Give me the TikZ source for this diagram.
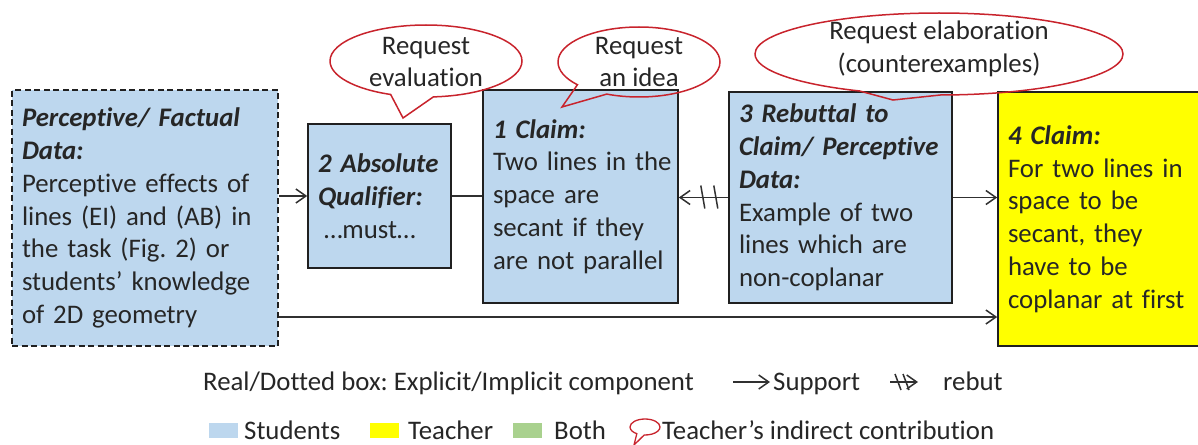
\documentclass[tikz,border=0pt]{standalone}
\usepackage{fontspec}
\setmainfont{Carlito}[Ligatures={NoCommon,NoRare,NoContextual}]
\usetikzlibrary{arrows.meta,shapes.callouts,calc}
\definecolor{stud}{HTML}{BDD7EE}
\definecolor{teach}{HTML}{FFFF00}
\definecolor{both}{HTML}{A9D18E}
\definecolor{cred}{HTML}{C8232C}
\definecolor{ink}{HTML}{262626}
\definecolor{edgec}{HTML}{202020}
\definecolor{linec}{HTML}{303030}
\frenchspacing
\begin{document}
\begin{tikzpicture}[x=1pt,y=-1pt,
  font=\fontsize{26.8}{32.8}\selectfont, text=ink,
  box/.style={draw=edgec, line width=1.6pt, fill=stud, inner xsep=6pt, inner ysep=0pt, align=left},
  conn/.style={draw=linec, line width=1.5pt},
  sup/.style={conn, -{Straight Barb[length=10pt,width=14pt,line width=1.5pt]}},
  bubble/.style={ellipse callout, draw=cred, line width=1.5pt, inner sep=0pt, callout pointer arc=26},
  lbl/.style={anchor=base west, inner sep=0pt},
  swatch/.style={inner sep=0pt, minimum width=29pt, minimum height=15pt}
]
\useasboundingbox (0,0) rectangle (1198,444);

% boxes
\node[box, dashed, dash pattern=on 6pt off 3.5pt, text width=254pt, minimum height=256pt] (data) at (145,218)
  {\leftskip=4pt\textbf{\textit{Perceptive/ Factual Data:}}\\Perceptive effects of\\lines (EI) and (AB) in\\the task (Fig.~2) or\\students’ knowledge\\of 2D geometry\par};
\node[box, text width=131pt, minimum height=144pt] (qual) at (379.5,196)
  {\leftskip=4pt\textbf{\textit{2 Absolute}}\\\textbf{\textit{Qualifier:}}\\\hspace*{6pt}…must…\par};
\node[box, text width=183pt, minimum height=213pt] (claim1) at (580.5,196.5)
  {\leftskip=4pt\textbf{\textit{1 Claim:}}\\Two lines in the\\space are\\secant if they\\are not parallel\par};
\node[box, text width=211pt, minimum height=211pt] (rebut) at (840.5,197.5)
  {\leftskip=4pt\textbf{\textit{3 Rebuttal to}}\\\textbf{\textit{Claim/ Perceptive}}\\\textbf{\textit{Data:}}\\Example of two\\lines which are\\non-coplanar\par};
\node[box, fill=teach, text width=192pt, minimum height=254pt] (claim4) at (1100,219)
  {\leftskip=4pt\textbf{\textit{4 Claim:}}\\For two lines in\\space to be\\secant, they\\have to be\\coplanar at first\par};

% connectors
\draw[sup] (qual.west -| data.east) -- (qual.west);
\draw[conn] (qual.east) -- (qual.east -| claim1.west);
\draw[sup] (rebut.west) -- (rebut.west -| claim1.east);
\draw[conn] ($(rebut.west -| claim1.east)+(22,-12)$) -- ++(4,23);
\draw[conn] ($(rebut.west -| claim1.east)+(35,-12)$) -- ++(4,23);
\draw[sup] (rebut.east) -- (rebut.east -| claim4.west);
\coordinate (low) at (0,317);
\draw[sup] (data.east |- low) -- (claim4.west |- low);

% callouts
\coordinate (p1) at (403,118);
\coordinate (p2) at (562,107);
\coordinate (p3) at (893,100);
\node[bubble, minimum width=192pt, minimum height=72pt, callout absolute pointer={(p1)}] (b1) at (426,61) {};
\node[align=center, inner sep=0pt] (t1) at (426,62) {Request\\evaluation};
\node[bubble, minimum width=162pt, minimum height=70pt, callout absolute pointer={(p2)}] (b2) at (639,62) {};
\node[align=center, inner sep=0pt] (t2) at (639,62) {Request\\an idea};
\node[bubble, minimum width=368pt, minimum height=82pt, callout absolute pointer={(p3)}] (b3) at (939,54) {};
\node[align=center, inner sep=0pt] (t3) at (939,49) {Request elaboration\\(counterexamples)};

% legend line 1
\node[lbl] (leg1) at (203,390.6) {Real/Dotted box: Explicit/Implicit component};
\coordinate (sa) at (733,382);
\coordinate (sb) at (770,382);
\draw[sup] (sa) -- (sb);
\node[lbl] (legsup) at (773,390.6) {Support};
\coordinate (ra) at (890,382);
\coordinate (rb) at (918,382);
\draw[sup] (ra) -- (rb);
\draw[conn] ($(ra)+(5,-8)$) -- ++(6,16);
\draw[conn] ($(ra)+(13,-8)$) -- ++(6,16);
\node[lbl] (legreb) at (943,390.6) {rebut};

% legend line 2
\node[swatch, fill=stud] (s1) at (223.5,430.5) {};
\node[lbl] (l1) at (244,439.6) {Students};
\node[swatch, fill=teach] (s2) at (384.5,430.5) {};
\node[lbl] (l2) at (408,439.6) {Teacher};
\node[swatch, fill=both] (s3) at (527.5,430.5) {};
\node[lbl] (l3) at (554,439.6) {Both};
\coordinate (p4) at (634,445);
\node[bubble, line width=1.3pt, minimum width=30pt, minimum height=16pt, callout absolute pointer={(p4)}, callout pointer arc=30] (b4) at (645,427) {};
\node[lbl] (l4) at (662,439.6) {Teacher’s indirect contribution};
\end{tikzpicture}
\end{document}
